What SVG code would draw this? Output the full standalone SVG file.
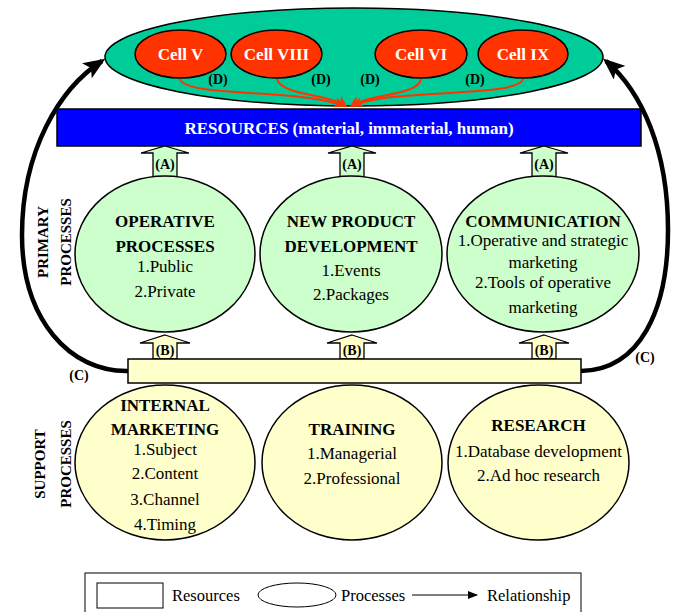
<svg xmlns="http://www.w3.org/2000/svg" width="675" height="612" viewBox="0 0 675 612">
<style>
text{font-family:"Liberation Serif","Times New Roman",serif;fill:#000}
.h{font-size:17px;font-weight:bold}
.n{font-size:17px}
.lbl{font-size:14px;font-weight:bold}
.side{font-size:15px;font-weight:bold}
.cell{font-size:17px;font-weight:bold;fill:#fff}
.pe{fill:#CCFFCC;stroke:#000;stroke-width:1.5}
.se{fill:#FFFFCC;stroke:#000;stroke-width:1.5}
.ba{stroke:#000;stroke-width:1.3}
.red{fill:none;stroke:#FF3300;stroke-width:2}
.big{fill:none;stroke:#000;stroke-width:4.5}
.lg{font-size:16.5px}
</style>
<defs>
<marker id="ar" markerUnits="userSpaceOnUse" markerWidth="12" markerHeight="10" refX="10" refY="5" orient="auto">
<path d="M0,0 L12,5 L0,10 L3,5 Z" fill="#FF3300"/>
</marker>
<marker id="ab" markerUnits="userSpaceOnUse" markerWidth="22" markerHeight="18" refX="18" refY="9" orient="auto">
<path d="M0,0 L22,9 L0,18 L5,9 Z" fill="#000"/>
</marker>
<marker id="al" markerUnits="userSpaceOnUse" markerWidth="10" markerHeight="8" refX="9" refY="4" orient="auto">
<path d="M0,0 L10,4 L0,8 Z" fill="#000"/>
</marker>
</defs>

<g id="resource-cells">
<ellipse cx="354" cy="57" rx="249" ry="49" fill="#00CC99" stroke="#000" stroke-width="1.5"/>
</g>
<g id="cell-v"><ellipse cx="180.5" cy="54" rx="45.5" ry="24" fill="#FF3300" stroke="#000" stroke-width="1.5"/><text class="cell" x="180.5" y="60" text-anchor="middle">Cell V</text></g>
<g id="cell-viii"><ellipse cx="276.5" cy="54" rx="45.5" ry="24" fill="#FF3300" stroke="#000" stroke-width="1.5"/><text class="cell" x="276.5" y="60" text-anchor="middle">Cell VIII</text></g>
<g id="cell-vi"><ellipse cx="421" cy="54" rx="46" ry="24" fill="#FF3300" stroke="#000" stroke-width="1.5"/><text class="cell" x="421" y="60" text-anchor="middle">Cell VI</text></g>
<g id="cell-ix"><ellipse cx="523" cy="54" rx="45" ry="24" fill="#FF3300" stroke="#000" stroke-width="1.5"/><text class="cell" x="523" y="60" text-anchor="middle">Cell IX</text></g>

<g id="resources">
<rect x="57" y="109" width="584" height="37" fill="#0000FF" stroke="#000" stroke-width="1.5"/>
<text x="349" y="134" text-anchor="middle" font-size="17" font-weight="bold" style="fill:#fff">RESOURCES (material, immaterial, human)</text>
</g>

<g id="connectors">
<path class="red" d="M180,79 C186,98 300,88 344,106" marker-end="url(#ar)"/>
<path class="red" d="M277,79 C282,96 330,94 346,106" marker-end="url(#ar)"/>
<path class="red" d="M421,79 C418,96 368,94 351,106" marker-end="url(#ar)"/>
<path class="red" d="M523,79 C518,98 390,88 353,106" marker-end="url(#ar)"/>
<text class="lbl" x="218" y="84" text-anchor="middle">(D)</text>
<text class="lbl" x="321" y="84" text-anchor="middle">(D)</text>
<text class="lbl" x="370" y="84" text-anchor="middle">(D)</text>
<text class="lbl" x="475" y="84" text-anchor="middle">(D)</text>

<polygon class="ba" fill="#CCFFCC" points="165,146 189,153 177,153 177,177 153,177 153,153 141,153"/>
<polygon class="ba" fill="#CCFFCC" points="352,146 376,153 364,153 364,177 340,177 340,153 328,153"/>
<polygon class="ba" fill="#CCFFCC" points="544,146 568,153 556,153 556,177 532,177 532,153 520,153"/>
<text class="lbl" x="165" y="169" text-anchor="middle">(A)</text>
<text class="lbl" x="352" y="169" text-anchor="middle">(A)</text>
<text class="lbl" x="544" y="169" text-anchor="middle">(A)</text>

<polygon class="ba" fill="#FFFFCC" points="165,335 190,343 177,343 177,359 153,359 153,343 140,343"/>
<polygon class="ba" fill="#FFFFCC" points="352,335 377,343 364,343 364,359 340,359 340,343 327,343"/>
<polygon class="ba" fill="#FFFFCC" points="544,335 569,343 556,343 556,359 532,359 532,343 519,343"/>
<text class="lbl" x="165" y="355" text-anchor="middle">(B)</text>
<text class="lbl" x="352" y="355" text-anchor="middle">(B)</text>
<text class="lbl" x="544" y="355" text-anchor="middle">(B)</text>

<path class="big" d="M128,371 C70,372 22,320 22,235 C22,150 60,88 102,61" marker-end="url(#ab)"/>
<path class="big" d="M581,371 C640,370 668,310 668,230 C668,150 642,92 606,61" marker-end="url(#ab)"/>
<text class="lbl" x="79" y="380" text-anchor="middle" font-size="16">(C)</text>
<text class="lbl" x="645" y="362" text-anchor="middle" font-size="16">(C)</text>
</g>

<g id="primary-label">
<text class="side" transform="translate(48,242) rotate(-90)" text-anchor="middle">PRIMARY</text>
<text class="side" transform="translate(71,242) rotate(-90)" text-anchor="middle">PROCESSES</text>
</g>

<g id="operative-processes">
<ellipse class="pe" cx="165" cy="254" rx="90" ry="78"/>
<text class="h" x="165" y="227" text-anchor="middle">OPERATIVE</text>
<text class="h" x="165" y="252" text-anchor="middle">PROCESSES</text>
<text class="n" x="165" y="272" text-anchor="middle">1.Public</text>
<text class="n" x="165" y="297" text-anchor="middle">2.Private</text>
</g>
<g id="new-product-development">
<ellipse class="pe" cx="351" cy="254" rx="91" ry="78"/>
<text class="h" x="351" y="227" text-anchor="middle">NEW PRODUCT</text>
<text class="h" x="351" y="252" text-anchor="middle">DEVELOPMENT</text>
<text class="n" x="351" y="276" text-anchor="middle">1.Events</text>
<text class="n" x="351" y="300" text-anchor="middle">2.Packages</text>
</g>
<g id="communication">
<ellipse class="pe" cx="543" cy="254" rx="96" ry="78"/>
<text class="h" x="543" y="227" text-anchor="middle">COMMUNICATION</text>
<text class="n" x="543" y="246" text-anchor="middle">1.Operative and strategic</text>
<text class="n" x="543" y="268" text-anchor="middle">marketing</text>
<text class="n" x="543" y="288" text-anchor="middle">2.Tools of operative</text>
<text class="n" x="543" y="313" text-anchor="middle">marketing</text>
</g>

<g id="support-bar">
<rect x="128" y="359" width="453" height="24" fill="#FFFFCC" stroke="#000" stroke-width="1.5"/>
</g>

<g id="support-label">
<text class="side" transform="translate(45,464) rotate(-90)" text-anchor="middle">SUPPORT</text>
<text class="side" transform="translate(71,464) rotate(-90)" text-anchor="middle">PROCESSES</text>
</g>

<g id="internal-marketing">
<ellipse class="se" cx="165" cy="462.5" rx="90" ry="77.5"/>
<text class="h" x="165" y="411" text-anchor="middle">INTERNAL</text>
<text class="h" x="165" y="435" text-anchor="middle">MARKETING</text>
<text class="n" x="165" y="455" text-anchor="middle">1.Subject</text>
<text class="n" x="165" y="479" text-anchor="middle">2.Content</text>
<text class="n" x="165" y="505" text-anchor="middle">3.Channel</text>
<text class="n" x="165" y="530" text-anchor="middle">4.Timing</text>
</g>
<g id="training">
<ellipse class="se" cx="352" cy="462.5" rx="90" ry="77.5"/>
<text class="h" x="352" y="435" text-anchor="middle">TRAINING</text>
<text class="n" x="352" y="459" text-anchor="middle">1.Managerial</text>
<text class="n" x="352" y="484" text-anchor="middle">2.Professional</text>
</g>
<g id="research">
<ellipse class="se" cx="538.5" cy="462.5" rx="90.5" ry="77.5"/>
<text class="h" x="538.5" y="431" text-anchor="middle">RESEARCH</text>
<text class="n" x="538.5" y="457" text-anchor="middle">1.Database development</text>
<text class="n" x="538.5" y="481" text-anchor="middle">2.Ad hoc research</text>
</g>

<g id="legend">
<rect x="85" y="573" width="496" height="50" fill="#fff" stroke="#000" stroke-width="1"/>
<rect x="97" y="583" width="66" height="25" fill="#fff" stroke="#000" stroke-width="1"/>
<text class="lg" x="172" y="601">Resources</text>
<ellipse cx="297" cy="595" rx="39" ry="12" fill="#fff" stroke="#000" stroke-width="1"/>
<text class="lg" x="341" y="601">Processes</text>
<line x1="412" y1="595" x2="477" y2="595" stroke="#000" stroke-width="1" marker-end="url(#al)"/>
<text class="lg" x="487" y="601">Relationship</text>
</g>
</svg>
